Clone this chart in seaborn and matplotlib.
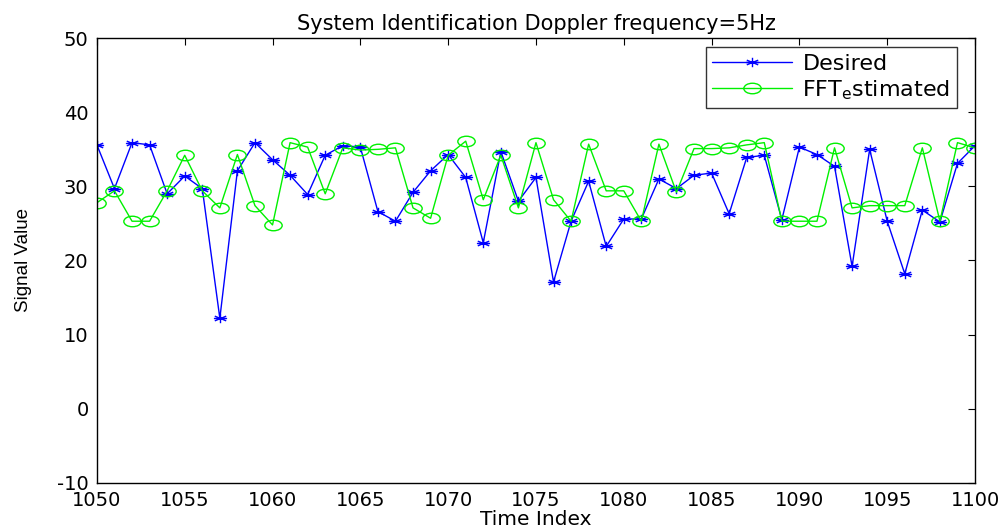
import numpy as np
import pandas as pd
import matplotlib
matplotlib.use("Agg")
import matplotlib.pyplot as plt
from matplotlib.path import Path
from matplotlib.transforms import Affine2D
import seaborn as sns

# Time axis and the two signals
time_index = list(range(1050, 1101))
desired = [35.6, 29.7, 35.9, 35.6, 29.0, 31.4, 29.7, 12.2, 32.1, 35.9,
           33.6, 31.5, 28.9, 34.2, 35.5, 35.3, 26.6, 25.3, 29.2, 32.1,
           34.3, 31.2, 22.4, 34.7, 28.0, 31.2, 17.1, 25.3, 30.7, 21.9,
           25.6, 25.6, 31.0, 29.7, 31.5, 31.8, 26.3, 33.9, 34.2, 25.5,
           35.3, 34.3, 32.7, 19.2, 35.0, 25.3, 18.2, 26.8, 25.2, 33.1,
           35.5]
fft_estimated = [27.8, 29.4, 25.3, 25.3, 29.4, 34.2, 29.4, 27.1, 34.3, 27.4,
                 24.8, 35.9, 35.3, 29.0, 35.2, 34.9, 35.0, 35.2, 27.1, 25.7,
                 34.2, 36.1, 28.2, 34.2, 27.1, 35.9, 28.2, 25.3, 35.7, 29.4,
                 29.4, 25.3, 35.7, 29.2, 35.1, 35.1, 35.2, 35.6, 35.9, 25.3,
                 25.3, 25.3, 35.2, 27.1, 27.4, 27.4, 27.4, 35.2, 25.3, 35.9,
                 35.2]
x_ticks = list(range(1050, 1101, 5))
y_ticks = list(range(-10, 51, 10))

df = pd.DataFrame({"t": time_index, "desired": desired, "fft": fft_estimated})

sns.set_style("white")
plt.rcParams["font.family"] = ["DejaVu Sans"]
plt.rcParams["axes.unicode_minus"] = False
plt.rcParams["mathtext.fontset"] = "dejavusans"
plt.rcParams["text.color"] = "black"
plt.rcParams["axes.labelcolor"] = "black"
plt.rcParams["xtick.color"] = "black"
plt.rcParams["ytick.color"] = "black"

# Wide asterisk and wide open circle markers
arms = []
codes = []
for ang in (90, 30, 150):
    a = np.deg2rad(ang)
    dx, dy = np.cos(a), np.sin(a)
    arms += [(-dx, -dy), (dx, dy)]
    codes += [Path.MOVETO, Path.LINETO]
arms += [(-1, 0), (1, 0)]
codes += [Path.MOVETO, Path.LINETO]
asterisk = Path(np.array(arms) * np.array([1.4, 1.0]), codes)
ellipse = Path.unit_circle().transformed(Affine2D().scale(1.65, 1.0))

fig = plt.figure(figsize=(9.99, 5.30), dpi=100)
ax = fig.add_axes([0.097, 0.089, 0.879, 0.839])

sns.lineplot(data=df, x="t", y="desired", ax=ax, color="#0000ff", lw=1.0,
             marker=asterisk, markersize=9.5, markeredgecolor="#0000ff",
             markerfacecolor="none", markeredgewidth=1.0, label="Desired")
sns.lineplot(data=df, x="t", y="fft", ax=ax, color="#00f000", lw=1.0,
             marker=ellipse, markersize=12.5, markeredgecolor="#00f000",
             markerfacecolor="none", markeredgewidth=1.0,
             label=r"FFT$_{\mathrm{e}}$stimated")

ax.set_xlim(1050, 1100)
ax.set_ylim(-10, 50)
ax.set_xticks(x_ticks)
ax.set_yticks(y_ticks)
ax.tick_params(direction="in", length=5, width=0.8, top=True, right=True,
               labelsize=14, colors="black")
ax.tick_params(axis="x", pad=6)
ax.tick_params(axis="y", pad=6)
for s in ax.spines.values():
    s.set_visible(True)
    s.set_color("black")
    s.set_linewidth(1.0)

ax.set_title("System Identification Doppler frequency=5Hz", fontsize=15, pad=6,
             color="black")
ax.set_xlabel("Time Index", fontsize=14.5, color="black")
ax.xaxis.set_label_coords(0.5, -0.062)
ax.set_ylabel("Signal Value", fontsize=13.5, family=["Liberation Sans"],
              color="black")
ax.yaxis.set_label_coords(-0.074, 0.5)

leg = ax.legend(loc="upper right", fontsize=16, frameon=True, fancybox=False,
                edgecolor="black", handlelength=3.6, borderaxespad=0.0,
                borderpad=0.3, labelspacing=0.2, handletextpad=0.45,
                bbox_to_anchor=(0.9795, 0.980), labelcolor="black")
leg.get_frame().set_linewidth(1.0)

fig.savefig("out.png", dpi=100)
